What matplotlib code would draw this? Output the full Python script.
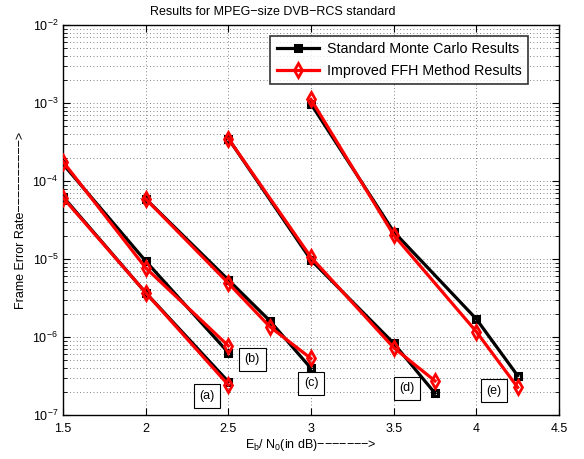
import matplotlib
matplotlib.use("Agg")
import matplotlib.pyplot as plt
from matplotlib.ticker import LogLocator, NullFormatter

plt.rcParams['font.family'] = ['Liberation Sans', 'DejaVu Sans']
plt.rcParams['mathtext.fontset'] = 'custom'
plt.rcParams['mathtext.rm'] = 'Liberation Sans'
plt.rcParams['mathtext.it'] = 'Liberation Sans:italic'

# Each curve (a)-(e): Eb/N0 points and frame error rates
x_a = [1.5, 2.0, 2.5]
mc_a = [6.3e-5, 3.7e-6, 2.67e-7]
ffh_a = [6.1e-5, 3.7e-6, 2.43e-7]

x_b = [1.5, 2.0, 2.5]
mc_b = [1.65e-4, 9.4e-6, 6.3e-7]
ffh_b = [1.77e-4, 7.7e-6, 7.7e-7]

x_c = [2.0, 2.5, 2.75, 3.0]
mc_c = [5.9e-5, 5.4e-6, 1.62e-6, 3.96e-7]
ffh_c = [5.9e-5, 4.9e-6, 1.36e-6, 5.3e-7]

x_d = [2.5, 3.0, 3.5, 3.75]
mc_d = [3.5e-4, 9.7e-6, 8.3e-7, 1.9e-7]
ffh_d = [3.5e-4, 1.05e-5, 7.3e-7, 2.73e-7]

x_e = [3.0, 3.5, 4.0, 4.25]
mc_e = [9.7e-4, 2.24e-5, 1.70e-6, 3.19e-7]
ffh_e = [1.11e-3, 2.03e-5, 1.17e-6, 2.26e-7]

curve_labels = ['(a)', '(b)', '(c)', '(d)', '(e)']
label_x = [2.37, 2.645, 3.0, 3.58, 4.105]
label_y = [1.75e-7, 5.2e-7, 2.55e-7, 2.2e-7, 2.05e-7]

x_ticks = [1.5, 2, 2.5, 3, 3.5, 4, 4.5]
x_tick_labels = ['1.5', '2', '2.5', '3', '3.5', '4', '4.5']

series = [(x_a, mc_a, ffh_a), (x_b, mc_b, ffh_b), (x_c, mc_c, ffh_c),
          (x_d, mc_d, ffh_d), (x_e, mc_e, ffh_e)]

fig = plt.figure(figsize=(5.84, 4.59), dpi=100)
ax = fig.add_axes([0.1079, 0.0959, 0.8493, 0.8496])

for i, (xs, mc, ffh) in enumerate(series):
    ax.plot(xs, mc, color='black', lw=2.3, marker='s', ms=5,
            mfc='none', mec='black', mew=2.2,
            label='Standard Monte Carlo Results' if i == 0 else None, zorder=3)
for i, (xs, mc, ffh) in enumerate(series):
    ax.plot(xs, ffh, color='red', lw=2.3, marker='d', ms=7,
            mfc='none', mec='red', mew=2.0,
            label='Improved FFH Method Results' if i == 0 else None, zorder=4)

for lab, lx, ly in zip(curve_labels, label_x, label_y):
    ax.text(lx, ly, lab, ha='center', va='center', fontsize=9, zorder=5,
            bbox=dict(boxstyle='square,pad=0.45', fc='white', ec='black', lw=0.8))

ax.set_yscale('log')
ax.set_xlim(1.5, 4.5)
ax.set_ylim(1e-7, 1e-2)
ax.set_xticks(x_ticks)
ax.set_xticklabels(x_tick_labels)
ax.yaxis.set_major_locator(LogLocator(base=10, numticks=10))
ax.yaxis.set_minor_locator(LogLocator(base=10, subs=range(2, 10), numticks=20))
ax.yaxis.set_minor_formatter(NullFormatter())

ax.tick_params(which='both', direction='in', top=True, right=True, labelsize=9)
ax.tick_params(which='major', length=5, width=0.8)
ax.tick_params(which='minor', length=3, width=0.6)
ax.tick_params(axis='x', pad=6)

ax.grid(True, which='major', axis='both', color='0.35', linestyle=(0, (1, 3)), lw=0.6)
ax.grid(True, which='minor', axis='y', color='0.35', linestyle=(0, (1, 3)), lw=0.6)
ax.set_axisbelow(True)
for s in ax.spines.values():
    s.set_linewidth(1.0)

ax.set_title('Results for MPEG\u2212size DVB\u2212RCS standard', fontsize=9, pad=7, x=0.423)
ax.set_xlabel('E$_\\mathrm{b}$/ N$_0$(in dB)' + '\u2212' * 7 + '>', fontsize=9, labelpad=1)
ax.set_ylabel('Frame Error Rate' + '\u2212' * 10 + '>', fontsize=9, labelpad=4)

leg = ax.legend(loc='upper right', bbox_to_anchor=(0.937, 0.973), fontsize=10.3,
                frameon=True, fancybox=False, edgecolor='black', borderpad=0.45,
                handlelength=3.0, labelspacing=0.55, handletextpad=0.5,
                borderaxespad=0.0)
leg.get_frame().set_linewidth(1.2)

fig.savefig('out.png', dpi=100)
